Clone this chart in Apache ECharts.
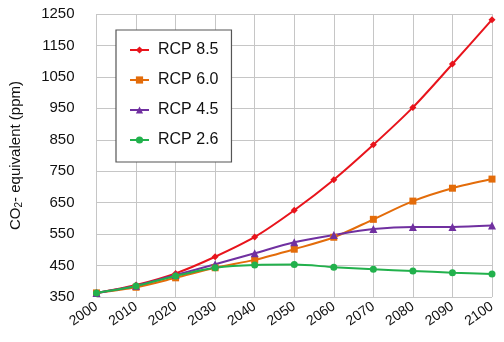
<!DOCTYPE html>
<html>
<head>
<meta charset="utf-8">
<script src="https://cdn.jsdelivr.net/npm/echarts@6/dist/echarts.min.js"></script>
<style>
  html, body { margin: 0; padding: 0; background: #fff; }
  #chart { width: 504px; height: 342px; }
</style>
</head>
<body>
<div id="chart"></div>
<script>
// CO2-equivalent concentration pathways, 2000-2100
const years = ['2000','2010','2020','2030','2040','2050','2060','2070','2080','2090','2100'];
const rcp85 = [363, 388, 425, 478, 541, 626, 723, 834, 953, 1091, 1232];
const rcp60 = [363, 381, 411, 443, 468, 502, 540, 597, 655, 696, 725];
const rcp45 = [363, 386, 420, 454, 489, 524, 547, 566, 573, 573, 577];
const rcp26 = [363, 385, 417, 443, 452, 453, 445, 438, 433, 427, 423];
const yTicks = [350, 450, 550, 650, 750, 850, 950, 1050, 1150, 1250];

// The value axis starts at the first tick; data is placed relative to it
const base = yTicks[0];
const step = yTicks[1] - yTicks[0];
const rel = arr => arr.map(v => v - base);

const font = '"Liberation Sans", Arial, sans-serif';

function line(name, data, color, symbol, size) {
  return {
    name, type: 'line', data: rel(data), smooth: 0.3,
    symbol, symbolSize: size,
    lineStyle: { color, width: 2 },
    itemStyle: { color },
    emphasis: { disabled: true }
  };
}

const chart = echarts.init(document.getElementById('chart'));
chart.setOption({
  animation: false,
  backgroundColor: '#fff',
  textStyle: { fontFamily: font },
  grid: { left: 96, right: 12, top: 14, bottom: 45 },
  legend: {
    orient: 'vertical', left: 116, top: 30,
    backgroundColor: '#fff',
    borderColor: '#555', borderWidth: 1.2,
    padding: [12, 13, 14, 13],
    itemWidth: 19, itemHeight: 9, itemGap: 14,
    textStyle: { fontSize: 16, color: '#111', fontFamily: font, padding: [0, 0, 0, 4] },
    data: ['RCP 8.5', 'RCP 6.0', 'RCP 4.5', 'RCP 2.6']
  },
  xAxis: {
    type: 'category', data: years, boundaryGap: false,
    axisLine: { show: false },
    axisTick: { show: false },
    splitLine: { show: true, lineStyle: { color: '#c6c6c6', width: 1 } },
    axisLabel: { rotate: 35, fontSize: 14, color: '#111', margin: 8, interval: 0, fontFamily: font }
  },
  yAxis: {
    type: 'value', min: 0, max: yTicks[yTicks.length - 1] - base, interval: step,
    axisLine: { show: false },
    axisTick: { show: false },
    splitLine: { show: true, lineStyle: { color: '#c6c6c6', width: 1 } },
    axisLabel: { fontSize: 15, color: '#111', margin: 22, fontFamily: font,
      formatter: v => String(v + base) },
    name: 'CO{sub|2}- equivalent (ppm)',
    nameLocation: 'middle', nameGap: 72, nameRotate: 90,
    nameTextStyle: {
      fontSize: 15, color: '#111', fontFamily: font,
      rich: { sub: { fontSize: 10, verticalAlign: 'bottom', padding: [8, 0, 0, 0], color: '#111', fontFamily: font } }
    }
  },
  series: [
    line('RCP 8.5', rcp85, '#e8141c', 'diamond', 7),
    line('RCP 6.0', rcp60, '#e36c0a', 'rect', 7),
    line('RCP 4.5', rcp45, '#7030a0', 'triangle', 8),
    line('RCP 2.6', rcp26, '#22b14c', 'circle', 7)
  ]
});
</script>
</body>
</html>
